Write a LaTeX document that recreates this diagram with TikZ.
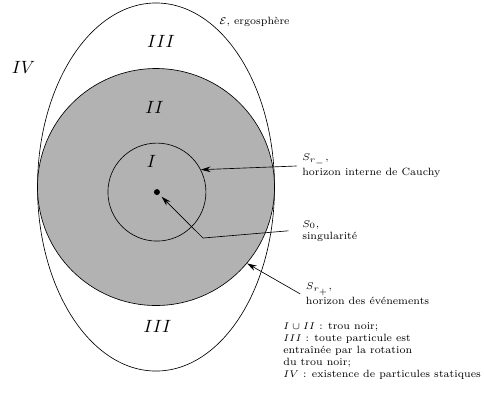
\documentclass[tikz,border=0pt]{standalone}
\usepackage{fontspec}
\usepackage{amsmath}
\usepackage{amssymb}
\usetikzlibrary{arrows.meta}

\begin{document}
\begin{tikzpicture}[
    lab/.style={font=\fontsize{6.5pt}{7.4pt}\selectfont, align=left, anchor=west},
    reg/.style={font=\fontsize{11pt}{13pt}\selectfont},
    arr/.style={-{Stealth[length=6pt,width=3.5pt]}}]
  \useasboundingbox (-3.385,-4.60) rectangle (7.117,4.058);
  % ergosphere et horizons
  \draw (0,0) ellipse [x radius=2.571, y radius=3.993];
  \node[circle, draw, fill=black!30, minimum size=5.142cm, inner sep=0] (hplus) at (0,0) {};
  \node[circle, draw, minimum size=2.126cm, inner sep=0] (hminus) at (0.02,-0.11) {};
  \node[circle, fill, minimum size=0.13cm, inner sep=0] (sing) at (0.02,-0.11) {};

  % regions
  \node[reg] (rIV) at (-2.875,2.604) {$IV$};
  \node[reg] (rIIIa) at (0.108,3.168) {$III$};
  \node[reg] (rII) at (-0.033,1.725) {$II$};
  \node[reg] (rI) at (-0.098,0.553) {$I$};
  \node[reg] (rIIIb) at (0.033,-3.027) {$III$};

  % legendes
  \node[lab, anchor=base west] (ergo) at (1.25,3.52) {$\mathcal{E}$, ergosphère};
  \node[lab] (cauchy) at (3.05,0.456) {$S_{r_-}$,\\horizon interne de Cauchy};
  \node[lab] (szero) at (3.05,-0.95) {$S_0$,\\singularité};
  \node[lab] (events) at (3.13,-2.32) {$S_{r_+}$,\\horizon des événements};
  \node[lab] (legend) at (2.64,-3.55) {$I\cup II$ : trou noir;\\
    $III$ : toute particule est\\
    entraînée par la rotation\\
    du trou noir;\\
    $IV$ : existence de particules statiques};

  \coordinate (bend) at (1.02,-1.107);
  \draw[arr] (cauchy.west) -- (hminus.27);
  \draw[arr, shorten >=2pt] ([xshift=-5pt]szero.west) -- (bend) -- (sing);
  \draw[arr] (events.west) -- (hplus.-40);
\end{tikzpicture}
\end{document}
